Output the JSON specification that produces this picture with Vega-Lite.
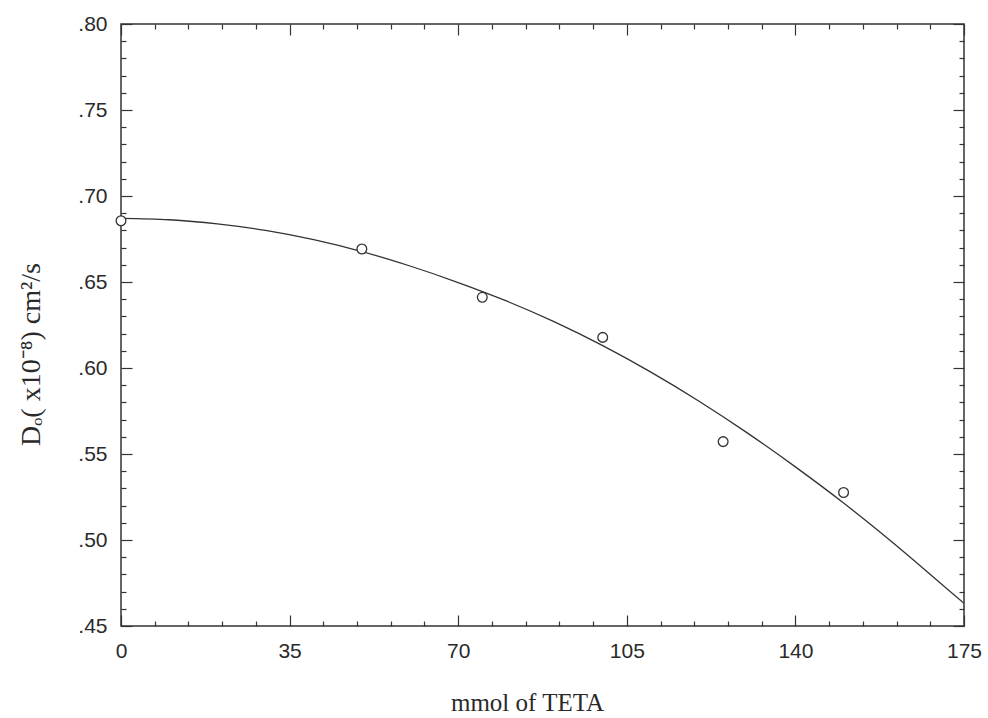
{
  "$schema": "https://vega.github.io/schema/vega-lite/v6.json",
  "width": 843,
  "height": 602,
  "autosize": {"type": "none"},
  "padding": {"left": 121, "top": 24, "right": 24, "bottom": 92},
  "background": "white",
  "config": {
    "view": {"stroke": "#333333", "strokeWidth": 1.5},
    "axis": {"grid": false, "domain": false, "tickColor": "#333333", "tickWidth": 1.2, "labelColor": "#2a2a2a", "titleColor": "#2a2a2a", "labelFont": "Liberation Sans", "labelFontSize": 21, "titleFont": "Liberation Serif", "titleFontSize": 25, "titleFontWeight": "normal"}
  },
  "datasets": {
    "curve": [
      {"mmol": 0, "D": 0.6870},
      {"mmol": 10, "D": 0.6862},
      {"mmol": 20, "D": 0.6838},
      {"mmol": 30, "D": 0.6800},
      {"mmol": 40, "D": 0.6746},
      {"mmol": 50, "D": 0.6677},
      {"mmol": 60, "D": 0.6593},
      {"mmol": 70, "D": 0.6497},
      {"mmol": 80, "D": 0.6390},
      {"mmol": 90, "D": 0.6268},
      {"mmol": 100, "D": 0.6130},
      {"mmol": 110, "D": 0.5976},
      {"mmol": 120, "D": 0.5807},
      {"mmol": 130, "D": 0.5623},
      {"mmol": 140, "D": 0.5425},
      {"mmol": 150, "D": 0.5215},
      {"mmol": 160, "D": 0.4990},
      {"mmol": 170, "D": 0.4752},
      {"mmol": 175, "D": 0.4632}
    ],
    "pts": [
      {"mmol": 0, "D": 0.6856},
      {"mmol": 50, "D": 0.6692},
      {"mmol": 75, "D": 0.6411},
      {"mmol": 100, "D": 0.6178},
      {"mmol": 125, "D": 0.5572},
      {"mmol": 150, "D": 0.5276}
    ]
  },
  "resolve": {"axis": {"x": "independent", "y": "independent"}},
  "layer": [
    {
      "data": {"name": "curve"},
      "mark": {"type": "line", "color": "#333333", "strokeWidth": 1.3, "interpolate": "monotone", "clip": true},
      "encoding": {
        "x": {"field": "mmol", "type": "quantitative", "scale": {"domain": [0, 175], "nice": false, "zero": false},
          "axis": {"orient": "bottom", "title": "mmol of TETA", "values": [0, 35, 70, 105, 140, 175], "tickSize": -11, "labelPadding": 25, "titleX": 406, "titleY": 84, "titleBaseline": "alphabetic", "labelFlush": false, "labelOverlap": false}},
        "y": {"field": "D", "type": "quantitative", "scale": {"domain": [0.45, 0.8], "nice": false, "zero": false},
          "axis": {"orient": "left", "title": "Dₒ( x10⁻⁸) cm²/s", "values": [0.45, 0.5, 0.55, 0.6, 0.65, 0.7, 0.75, 0.8], "tickSize": -11, "labelPadding": 25, "titleX": -82, "titleY": 330, "titleBaseline": "alphabetic", "titleFontSize": 28, "labelFlush": false, "labelOverlap": false, "labelExpr": "replace(format(datum.value, '.2f'), '0.', '.')"}}
      }
    },
    {
      "data": {"name": "pts"},
      "mark": {"type": "point", "shape": "circle", "size": 95, "filled": true, "fill": "white", "stroke": "#333333", "strokeWidth": 1.3, "opacity": 1},
      "encoding": {
        "x": {"field": "mmol", "type": "quantitative", "scale": {"domain": [0, 175], "nice": false, "zero": false},
          "axis": {"orient": "top", "title": null, "labels": false, "values": [0, 35, 70, 105, 140, 175], "tickSize": -11}},
        "y": {"field": "D", "type": "quantitative", "scale": {"domain": [0.45, 0.8], "nice": false, "zero": false},
          "axis": {"orient": "right", "title": null, "labels": false, "values": [0.45, 0.5, 0.55, 0.6, 0.65, 0.7, 0.75, 0.8], "tickSize": -11}}
      }
    },
    {
      "data": {"name": "pts"},
      "mark": {"type": "point", "opacity": 0},
      "encoding": {
        "x": {"field": "mmol", "type": "quantitative", "scale": {"domain": [0, 175], "nice": false, "zero": false},
          "axis": {"orient": "bottom", "title": null, "labels": false, "values": [7, 14, 21, 28, 42, 49, 56, 63, 77, 84, 91, 98, 112, 119, 126, 133, 147, 154, 161, 168], "tickSize": -5}},
        "y": {"field": "D", "type": "quantitative", "scale": {"domain": [0.45, 0.8], "nice": false, "zero": false},
          "axis": {"orient": "left", "title": null, "labels": false, "values": [0.46, 0.47, 0.48, 0.49, 0.51, 0.52, 0.53, 0.54, 0.56, 0.57, 0.58, 0.59, 0.61, 0.62, 0.63, 0.64, 0.66, 0.67, 0.68, 0.69, 0.71, 0.72, 0.73, 0.74, 0.76, 0.77, 0.78, 0.79], "tickSize": -5}}
      }
    },
    {
      "data": {"name": "pts"},
      "mark": {"type": "point", "opacity": 0},
      "encoding": {
        "x": {"field": "mmol", "type": "quantitative", "scale": {"domain": [0, 175], "nice": false, "zero": false},
          "axis": {"orient": "top", "title": null, "labels": false, "values": [7, 14, 21, 28, 42, 49, 56, 63, 77, 84, 91, 98, 112, 119, 126, 133, 147, 154, 161, 168], "tickSize": -5}},
        "y": {"field": "D", "type": "quantitative", "scale": {"domain": [0.45, 0.8], "nice": false, "zero": false},
          "axis": {"orient": "right", "title": null, "labels": false, "values": [0.46, 0.47, 0.48, 0.49, 0.51, 0.52, 0.53, 0.54, 0.56, 0.57, 0.58, 0.59, 0.61, 0.62, 0.63, 0.64, 0.66, 0.67, 0.68, 0.69, 0.71, 0.72, 0.73, 0.74, 0.76, 0.77, 0.78, 0.79], "tickSize": -5}}
      }
    }
  ]
}
